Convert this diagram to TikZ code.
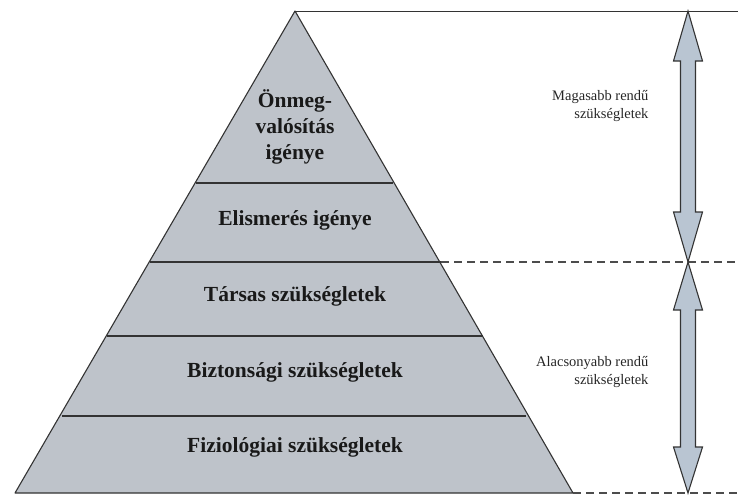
\documentclass[tikz,border=0pt]{standalone}
\usepackage{fontspec}
\setmainfont{Liberation Serif}
\begin{document}
\definecolor{tierfill}{HTML}{BEC3CA}
\definecolor{arrowfill}{HTML}{B9C5D2}
\definecolor{edge}{HTML}{333333}
\begin{tikzpicture}[x=1pt,y=-1pt,
  tier/.style={fill=tierfill,draw=edge,line width=1.1pt,line join=round},
  divider/.style={draw=edge,line width=1.1pt},
  tiertext/.style={font=\fontsize{21.5}{26}\selectfont\bfseries,align=center,text=black!90},
  sidetext/.style={font=\fontsize{14.5}{18}\selectfont,align=right,anchor=east,text=black!85},
  guide/.style={draw=black!80,line width=0.8pt},
  dashguide/.style={draw=black!70,line width=1.2pt,dash pattern=on 8pt off 5pt},
  bigarrow/.style={fill=arrowfill,draw=edge,line width=1.1pt,line join=miter}]
\useasboundingbox (0,0) rectangle (738,496);

% pyramid corners
\coordinate (apex) at (295,11);
\coordinate (bl) at (15,493);
\coordinate (br) at (573,493);

% pyramid body
\draw[tier] (apex) -- (br) -- (bl) -- cycle;

% tier boundaries
\draw[divider] (196,183) -- (393,183);
\draw[divider] (150,262) -- (441,262);
\draw[divider] (107,336) -- (483,336);
\draw[divider] (62,416) -- (526,416);

% tier labels
\node[tiertext] (t1) at (295,127) {Önmeg-\\valósítás\\igénye};
\node[tiertext] (t2) at (295,220) {Elismerés igénye};
\node[tiertext] (t3) at (295,296) {Társas szükségletek};
\node[tiertext] (t4) at (295,372) {Biztonsági szükségletek};
\node[tiertext] (t5) at (295,447) {Fiziológiai szükségletek};

% reference lines to the right
\coordinate (topend) at (738,11);
\coordinate (midstart) at (441,262);
\coordinate (midend) at (738,262);
\coordinate (botend) at (738,493);
\draw[guide] (apex) -- (topend);
\draw[dashguide] (midstart) -- (midend);
\draw[dashguide] (br) -- (botend);

% double arrows
\draw[bigarrow] (688,11) -- (702.5,61) -- (695.5,61) -- (695.5,212) -- (702.5,212)
  -- (688,262) -- (673.5,212) -- (680.5,212) -- (680.5,61) -- (673.5,61) -- cycle;
\draw[bigarrow] (688,262) -- (702.5,310) -- (695.5,310) -- (695.5,447) -- (702.5,447)
  -- (688,493) -- (673.5,447) -- (680.5,447) -- (680.5,310) -- (673.5,310) -- cycle;

% side labels
\node[sidetext] (upper) at (652,106) {Magasabb rendű\\szükségletek};
\node[sidetext] (lower) at (652,372) {Alacsonyabb rendű\\szükségletek};
\end{tikzpicture}
\end{document}
